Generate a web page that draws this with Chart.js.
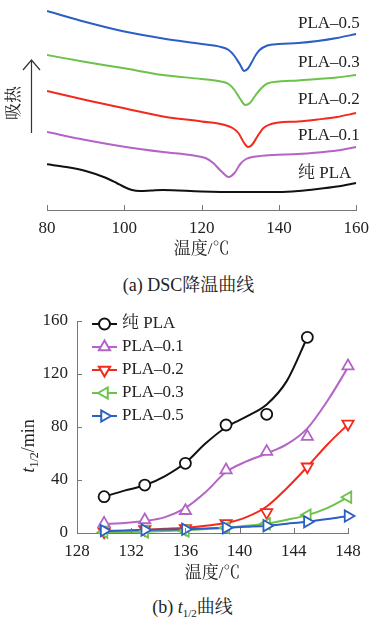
<!DOCTYPE html>
<html>
<head>
<meta charset="utf-8">
<script src="https://cdn.jsdelivr.net/npm/chart.js@4.4.1/dist/chart.umd.min.js"></script>
<style>
  body { margin: 0; background: #fff; }
  #wrap { position: relative; width: 377px; height: 617px; overflow: hidden;
    font-family: 'Liberation Serif', 'Noto Serif CJK SC', 'Noto Sans CJK SC', serif; color: #222; }
  canvas { position: absolute; left: 0; }
  .cap { position: absolute; left: 0; width: 377px; text-align: center; font-size: 18px; line-height: 22px; }
  .sub { font-size: 11px; position: relative; top: 4px; }
</style>
</head>
<body>
<div id="wrap">
  <canvas id="dsc" width="377" height="265" style="top:0"></canvas>
  <div class="cap" style="top:274px">(a) DSC降温曲线</div>
  <canvas id="half" width="377" height="290" style="top:300px"></canvas>
  <div class="cap" style="top:596px;left:4px">(b) <i>t</i><span class="sub">1/2</span>曲线</div>
</div>
<script>
const FONT = "'Liberation Serif', 'Noto Serif CJK SC', 'Noto Sans CJK SC', serif";
Chart.defaults.font.family = FONT;
Chart.defaults.font.size = 17;
Chart.defaults.color = '#222';

// (a) DSC cooling curves, heat flow in arbitrary units (endotherm up)
const seriesNames = ['纯 PLA', 'PLA–0.1', 'PLA–0.2', 'PLA–0.3', 'PLA–0.5'];
const seriesColors = ['#111111', '#b463c6', '#f22a1d', '#6cc24a', '#2c5fc4'];

const dscTempPure = [80, 85, 90, 95, 98, 100, 102, 104, 107, 110, 120, 130, 140, 145, 150, 155, 160];
const dscPure = [45.7, 43, 39, 32.5, 27, 23, 20, 19, 19.5, 20, 18.5, 18, 18, 19, 21, 23.5, 27];

const dscTemp01 = [80, 90, 100, 110, 118, 121, 123, 125, 127, 128.5, 130, 131.5, 134, 138, 145, 150, 155, 160];
const dsc01 = [78, 70, 63.3, 58, 54.5, 52, 47, 39, 33, 37, 46, 51, 53.5, 55, 56, 57.5, 59.5, 63];

const dscTemp02 = [80, 90, 100, 110, 120, 126, 128, 129.5, 131, 132, 133, 134.5, 136, 138, 140, 145, 150, 155, 160];
const dsc02 = [119, 110, 101.7, 93.5, 88.5, 85, 82, 77, 67, 63, 65, 74, 82, 86, 87.5, 88.5, 90.5, 93, 97];

const dscTemp03 = [80, 90, 100, 110, 120, 125, 127, 128.5, 130, 131.3, 132.5, 134, 135.5, 137, 140, 145, 150, 155, 160];
const dsc03 = [155, 148, 141.7, 135, 131, 128.5, 126, 120, 111, 105, 107, 115, 122, 126.5, 128.5, 129.5, 131, 132.5, 135];

const dscTemp05 = [80, 90, 100, 110, 120, 125, 127, 128.5, 130, 131, 132, 133, 134, 135, 137, 140, 145, 150, 155, 160];
const dsc05 = [199, 188, 178.5, 171.5, 166, 163, 160, 154, 145, 139, 141.5, 148, 155, 160, 164.5, 166, 167, 169, 172, 176];

const dscTemps = [dscTempPure, dscTemp01, dscTemp02, dscTemp03, dscTemp05];
const dscValues = [dscPure, dsc01, dsc02, dsc03, dsc05];

// (b) half crystallization time t1/2 (min) vs temperature
const halfTemps = [130, 133, 136, 139, 142, 145, 148];
const halfPure = [27.4, 36.2, 52.6, 81.5, 89.6, 147.7];
const half01 = [7.3, 9.8, 16.8, 47.5, 61.4, 72.7, 126];
const half02 = [1, 2.8, 3.5, 7.3, 15.6, 50, 82.3];
const half03 = [0.5, 0.8, 1.5, 4, 7, 13.5, 27];
const half05 = [1.8, 2.3, 2.8, 4, 5.5, 8.5, 12.8];

// fitted curves drawn through the points
const fitTemps = [130, 131.5, 133, 134.5, 136, 137.5, 139, 140.5, 142, 143.5, 145, 146.5, 148];
const fitPure = [27.4, 32, 36, 43, 53, 67.7, 79.8, 87.8, 97, 115, 147.7];
const fit01 = [6.8, 7.6, 9, 12, 19, 31, 46, 54, 60, 67, 79, 100, 125];
const fit02 = [1, 1.6, 2.5, 3.2, 4, 5.5, 7.5, 12, 20, 34, 50, 67, 82];
const fit03 = [0.5, 0.7, 1, 1.5, 2, 3, 4, 5.5, 7, 10, 13.5, 19, 27];
const fit05 = [1.5, 1.9, 2.3, 2.6, 2.8, 3.4, 4, 4.7, 5.5, 7, 8.5, 10.5, 12.8];

const halfValues = [halfPure, half01, half02, half03, half05];
const fitValues = [fitPure, fit01, fit02, fit03, fit05];
const markerStyles = [
  { style: 'circle', rotation: 0, radius: 5.5 },
  { style: 'triangle', rotation: 0, radius: 6.5 },
  { style: 'triangle', rotation: 180, radius: 6.5 },
  { style: 'triangle', rotation: 270, radius: 6.5 },
  { style: 'triangle', rotation: 90, radius: 6.5 },
];

const toPoints = (xs, ys) => ys.map((y, i) => ({ x: xs[i], y }));

// short tick marks pointing into the plot
const innerTicks = {
  id: 'innerTicks',
  afterDraw(chart) {
    const ctx = chart.ctx;
    ctx.save();
    ctx.strokeStyle = '#777';
    ctx.lineWidth = 1;
    Object.values(chart.scales).forEach((s) => {
      if (!s.options.display) return;
      s.ticks.forEach((t) => {
        const p = Math.round(s.getPixelForValue(t.value)) + 0.5;
        ctx.beginPath();
        if (s.isHorizontal()) {
          ctx.moveTo(p, s.top);
          ctx.lineTo(p, s.top - 5);
        } else {
          ctx.moveTo(s.right, p);
          ctx.lineTo(s.right + 5, p);
        }
        ctx.stroke();
      });
    });
    ctx.restore();
  },
};

const dscDecor = {
  id: 'dscDecor',
  afterDraw(chart) {
    const ctx = chart.ctx;
    ctx.save();
    ctx.fillStyle = '#222';
    ctx.font = `17px ${FONT}`;
    ctx.textBaseline = 'middle';
    const ys = [174, 136, 100, 63, 24];
    seriesNames.forEach((name, i) => ctx.fillText(name, 298, ys[i]));
    // arrow
    ctx.strokeStyle = '#333';
    ctx.lineWidth = 1.2;
    ctx.beginPath();
    ctx.moveTo(31.5, 133);
    ctx.lineTo(31.5, 60);
    ctx.moveTo(23, 70);
    ctx.lineTo(31.5, 60);
    ctx.lineTo(40, 70);
    ctx.stroke();
    ctx.translate(15, 103);
    ctx.rotate(-Math.PI / 2);
    ctx.textAlign = 'center';
    ctx.fillText('吸热', 0, 0);
    ctx.restore();
  },
};

new Chart(document.getElementById('dsc'), {
  type: 'line',
  data: {
    datasets: dscValues.map((vals, i) => ({
      label: seriesNames[i],
      data: toPoints(dscTemps[i], vals),
      borderColor: seriesColors[i],
      borderWidth: 2,
      pointRadius: 0,
      cubicInterpolationMode: 'monotone',
    })),
  },
  options: {
    responsive: false,
    animation: false,
    layout: { padding: { left: 47, right: 16, top: 0, bottom: 0 } },
    plugins: { legend: { display: false }, tooltip: { enabled: false } },
    scales: {
      x: {
        type: 'linear', min: 80, max: 160,
        grid: { display: false, drawTicks: false },
        border: { color: '#777', width: 1 },
        ticks: { stepSize: 20, padding: 8, color: '#222' },
        title: { display: true, text: '温度/℃', color: '#222', padding: { top: 0, bottom: 5 } },
        afterFit: (s) => { s.height = 55; },
      },
      y: { display: false, min: 0, max: 210 },
    },
  },
  plugins: [innerTicks, dscDecor],
});

const halfLegend = {
  id: 'halfLegend',
  afterDraw(chart) {
    const ctx = chart.ctx;
    ctx.save();
    ctx.font = `17px ${FONT}`;
    ctx.textBaseline = 'middle';
    seriesNames.forEach((name, i) => {
      const y = 24 + i * 23;
      ctx.strokeStyle = seriesColors[i];
      ctx.lineWidth = 2;
      ctx.beginPath();
      ctx.moveTo(92, y);
      ctx.lineTo(117, y);
      ctx.stroke();
      ctx.fillStyle = '#fff';
      Chart.helpers.drawPoint(ctx, {
        pointStyle: markerStyles[i].style,
        rotation: markerStyles[i].rotation,
        radius: markerStyles[i].radius,
        borderWidth: 1.8,
      }, 104.5, y);
      ctx.fillStyle = '#222';
      ctx.fillText(name, 122, y);
    });
    // y axis title with subscript
    ctx.translate(28, 146);
    ctx.rotate(-Math.PI / 2);
    const fT = `italic 19px ${FONT}`, fS = `12px ${FONT}`, fM = `18px ${FONT}`;
    ctx.textBaseline = 'alphabetic';
    ctx.font = fT; const wT = ctx.measureText('t').width;
    ctx.font = fS; const wS = ctx.measureText('1/2').width;
    ctx.font = fM; const wM = ctx.measureText('/min').width;
    let x = -(wT + wS + wM) / 2;
    ctx.font = fT; ctx.fillText('t', x, 6); x += wT;
    ctx.font = fS; ctx.fillText('1/2', x, 10); x += wS;
    ctx.font = fM; ctx.fillText('/min', x, 6);
    ctx.restore();
  },
};

const halfDatasets = [];
halfValues.forEach((vals, i) => {
  halfDatasets.push({
    label: seriesNames[i] + ' fit',
    data: toPoints(fitTemps, fitValues[i]),
    borderColor: seriesColors[i],
    borderWidth: 2,
    pointRadius: 0,
    cubicInterpolationMode: 'monotone',
    order: 20 - i,
  });
  halfDatasets.push({
    label: seriesNames[i],
    data: toPoints(halfTemps, vals),
    showLine: false,
    borderColor: seriesColors[i],
    backgroundColor: '#fff',
    pointStyle: markerStyles[i].style,
    pointRotation: markerStyles[i].rotation,
    pointRadius: markerStyles[i].radius,
    pointBorderWidth: 1.8,
    clip: false,
    order: 10 - i,
  });
});

new Chart(document.getElementById('half'), {
  type: 'line',
  data: { datasets: halfDatasets },
  options: {
    responsive: false,
    animation: false,
    layout: { padding: { left: 0, right: 29, top: 21, bottom: 0 } },
    plugins: { legend: { display: false }, tooltip: { enabled: false } },
    scales: {
      x: {
        type: 'linear', min: 128, max: 148,
        grid: { display: false, drawTicks: false },
        border: { color: '#777', width: 1 },
        ticks: { stepSize: 4, padding: 8, color: '#222' },
        title: { display: true, text: '温度/℃', color: '#222', padding: { top: 0, bottom: 6 } },
        afterFit: (s) => { s.height = 57; },
      },
      y: {
        min: 0, max: 160,
        grid: { display: false, drawTicks: false },
        border: { color: '#777', width: 1 },
        ticks: { stepSize: 40, padding: 9, color: '#222' },
        afterFit: (s) => { s.width = 77; },
      },
    },
  },
  plugins: [innerTicks, halfLegend],
});
</script>
</body>
</html>
